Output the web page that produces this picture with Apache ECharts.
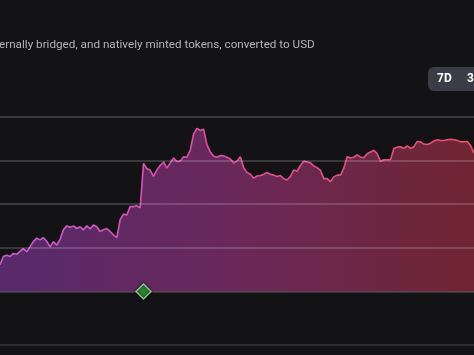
<!DOCTYPE html>
<html>
<head>
<meta charset="utf-8">
<style>
  html, body { margin: 0; padding: 0; background: #131315; }
  #chart { width: 474px; height: 355px; }
</style>
<script src="https://cdn.jsdelivr.net/npm/echarts@6/dist/echarts.min.js"></script>
</head>
<body>
<div id="chart"></div>
<script>
// Visible values (units of one gridline step), one per day
const values = [
  0.61, 0.80, 0.83, 0.80, 0.87, 0.85, 0.92, 0.98, 0.91, 1.02,
  1.14, 1.22, 1.18, 1.23, 1.15, 1.02, 1.14, 1.06, 1.19, 1.41,
  1.50, 1.47, 1.50, 1.44, 1.48, 1.41, 1.50, 1.43, 1.52, 1.48,
  1.37, 1.41, 1.44, 1.37, 1.29, 1.23, 1.64, 1.77, 1.75, 1.94,
  1.94, 1.96, 1.91, 2.93, 2.81, 2.77, 2.63, 2.78, 2.88, 2.96,
  2.82, 2.94, 3.05, 2.97, 2.98, 3.08, 3.07, 3.23, 3.60, 3.73,
  3.68, 3.71, 3.35, 3.19, 3.09, 3.07, 3.11, 3.10, 3.07, 3.03,
  2.94, 2.98, 3.08, 2.83, 2.72, 2.68, 2.59, 2.64, 2.65, 2.68,
  2.72, 2.68, 2.66, 2.63, 2.65, 2.58, 2.55, 2.63, 2.78, 2.75,
  2.88, 2.98, 2.96, 2.94, 2.87, 2.83, 2.77, 2.58, 2.58, 2.51,
  2.62, 2.66, 2.66, 2.82, 3.08, 3.05, 3.07, 3.12, 3.07, 3.06,
  3.15, 3.19, 3.23, 3.15, 2.97, 3.01, 3.01, 3.01, 3.27, 3.30,
  3.31, 3.27, 3.33, 3.27, 3.31, 3.43, 3.42, 3.37, 3.36, 3.39,
  3.44, 3.47, 3.45, 3.45, 3.47, 3.48, 3.47, 3.45, 3.42, 3.42,
  3.43, 3.33, 3.16
];
const categories = values.map((_, i) => 'D' + (i + 1));
const eventIndex = 43;
const yTicks = [0, 1, 2, 3, 4];
const subtitle = 'ernally bridged, and natively minted tokens, converted to USD';
const rangeButtons = ['7D', '30D'];

const chart = echarts.init(document.getElementById('chart'), null, { renderer: 'canvas' });
const G = echarts.graphic;

chart.setOption({
  backgroundColor: '#131315',
  animation: false,
  grid: { left: 0, right: 0, top: 116.5, bottom: 63.5, containLabel: false },
  xAxis: {
    type: 'category',
    data: categories,
    boundaryGap: false,
    axisLine: { show: false },
    axisTick: { show: false },
    axisLabel: { show: false },
    splitLine: { show: false }
  },
  yAxis: {
    type: 'value',
    min: yTicks[0],
    max: yTicks[yTicks.length - 1],
    interval: 1,
    z: 5,
    axisLine: { show: false },
    axisTick: { show: false },
    axisLabel: { show: false },
    splitLine: { show: true, lineStyle: { color: 'rgba(255,255,255,0.22)', width: 1.5 } }
  },
  series: [
    {
      type: 'line',
      data: values,
      symbol: 'none',
      smooth: false,
      z: 2,
      lineStyle: {
        width: 1.6,
        color: new G.LinearGradient(0, 0, 1, 0, [
          { offset: 0, color: '#c85ed2' },
          { offset: 0.5, color: '#e04e9a' },
          { offset: 1, color: '#e8506a' }
        ])
      },
      areaStyle: {
        opacity: 1,
        color: new G.LinearGradient(0, 0, 1, 0, [
          { offset: 0, color: '#58296c' },
          { offset: 0.5, color: '#6a285a' },
          { offset: 1, color: '#702532' }
        ])
      }
    },
    {
      type: 'scatter',
      data: [[eventIndex, 0]],
      symbol: 'diamond',
      symbolSize: [15, 15],
      z: 10,
      clip: false,
      itemStyle: {
        color: '#33a03c',
        borderColor: '#a8e6a2',
        borderWidth: 1.5,
        shadowColor: 'rgba(0,0,0,0.9)',
        shadowBlur: 3
      }
    }
  ],
  graphic: [
    {
      type: 'text', left: -1, top: 39,
      style: { text: subtitle, fill: '#b4b4b9', font: '11.7px Roboto, sans-serif' }
    },
    {
      type: 'rect', shape: { x: 428, y: 67, width: 70, height: 24, r: 6 },
      style: { fill: '#3a3d45' }
    },
    {
      type: 'text', x: 437, y: 73,
      style: { text: rangeButtons[0], fill: '#ffffff', font: 'bold 12px Roboto, sans-serif' }
    },
    {
      type: 'text', x: 467, y: 73,
      style: { text: rangeButtons[1], fill: '#ffffff', font: 'bold 12px Roboto, sans-serif' }
    },
    {
      type: 'rect', shape: { x: 0, y: 344, width: 474, height: 2 },
      style: { fill: '#2c2c30' }
    }
  ]
});
</script>
</body>
</html>
